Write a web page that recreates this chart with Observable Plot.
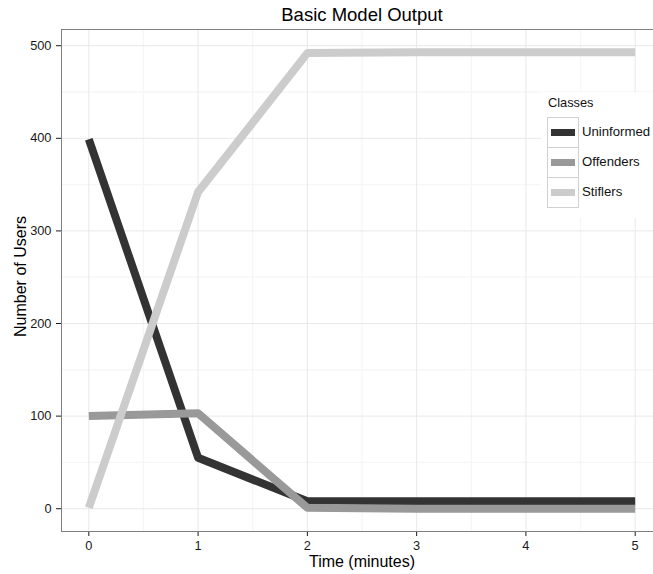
<!DOCTYPE html>
<html>
<head>
<meta charset="utf-8">
<script src="https://cdn.jsdelivr.net/npm/d3@7"></script>
<script src="https://cdn.jsdelivr.net/npm/@observablehq/plot@0.6"></script>
<style>
  html, body { margin: 0; padding: 0; background: #fff; overflow: hidden; }
  #wrap { position: relative; width: 653px; height: 574px; overflow: hidden;
          font-family: "Liberation Sans", Arial, sans-serif; }
  #wrap svg { display: block; max-width: none !important; width: 663px !important; height: 574px !important; }
  #legend { position: absolute; left: 541px; top: 92px; width: 112px; height: 126px; background: #fff;
            font-family: "Liberation Sans", Arial, sans-serif; color: #111; }
  #legend .ttl { position: absolute; left: 7px; top: 3px; font-size: 12.8px; }
  #legend .row { position: absolute; left: 6px; height: 30px; width: 110px; }
  #legend .key { position: absolute; left: 0; top: 0; width: 30px; height: 29px; border: 1px solid #d0d0d0; background: #fff; }
  #legend .sw { position: absolute; left: 3px; top: 11px; width: 24px; height: 7px; }
  #legend .lab { position: absolute; left: 35px; top: 0; line-height: 30px; font-size: 13.2px; }
</style>
</head>
<body>
<div id="wrap"></div>
<script>
// ---- data ----
const times = [0, 1, 2, 3, 4, 5];
const classes = ["Uninformed", "Offenders", "Stiflers"];
const classColors = ["#333333", "#999999", "#cccccc"];
const uninformed = [399, 55, 8, 8, 8, 8];
const offenders = [100, 103, 1, 0, 0, 0];
const stiflers = [1, 342, 492, 493, 493, 493];
const xTicks = [0, 1, 2, 3, 4, 5];
const xMinor = [0.5, 1.5, 2.5, 3.5, 4.5];
const yTicks = [0, 100, 200, 300, 400, 500];
const yMinor = [50, 150, 250, 350, 450];
const titleText = "Basic Model Output";
const xLabel = "Time (minutes)";
const yLabel = "Number of Users";
const legendTitle = "Classes";

const series = [uninformed, offenders, stiflers];
const rows = [];
classes.forEach((c, i) => times.forEach((t, j) => rows.push({time: t, value: series[i][j], cls: c})));

const plot = Plot.plot({
  width: 663,
  height: 574,
  marginLeft: 61,
  marginRight: 1,
  marginTop: 29,
  marginBottom: 43,
  style: {fontFamily: "Liberation Sans, Arial, sans-serif", fontSize: "12.8px", background: "#fff", color: "#1a1a1a"},
  x: {domain: [-0.25, 5.25], ticks: xTicks, tickFormat: d => String(d), tickSize: 5, tickPadding: 4, label: null},
  y: {domain: [-24.6, 517.5], ticks: yTicks, tickFormat: d => String(d), tickSize: 5, tickPadding: 5, label: null},
  color: {domain: classes, range: classColors},
  marks: [
    Plot.ruleX(xMinor, {stroke: "#f6f6f6", strokeWidth: 1.3}),
    Plot.ruleY(yMinor, {stroke: "#f6f6f6", strokeWidth: 1.3}),
    Plot.ruleX(xTicks, {stroke: "#e8e8e8", strokeWidth: 1}),
    Plot.ruleY(yTicks, {stroke: "#e8e8e8", strokeWidth: 1}),
    Plot.line(rows, {x: "time", y: "value", z: "cls", stroke: "cls", strokeWidth: 8,
                     strokeLinejoin: "round", strokeLinecap: "butt"}),
    Plot.frame({stroke: "#7f7f7f", strokeWidth: 1}),
    Plot.text([titleText], {frameAnchor: "top", lineAnchor: "middle", textAnchor: "middle", dy: -14.2, fontSize: 18.5, fill: "#000"}),
    Plot.text([xLabel], {frameAnchor: "bottom", lineAnchor: "middle", textAnchor: "middle", dy: 30.4, fontSize: 16, fill: "#000"}),
    Plot.text([yLabel], {frameAnchor: "left", lineAnchor: "middle", textAnchor: "middle", dx: -41, dy: -4, rotate: -90, fontSize: 16, fill: "#000"})
  ]
});

const wrap = document.getElementById("wrap");
wrap.appendChild(plot);

// legend
const leg = document.createElement("div");
leg.id = "legend";
const lt = document.createElement("div");
lt.className = "ttl";
lt.textContent = legendTitle;
leg.appendChild(lt);
classes.forEach((c, i) => {
  const row = document.createElement("div");
  row.className = "row";
  row.style.top = (25 + i * 30) + "px";
  const key = document.createElement("div");
  key.className = "key";
  const sw = document.createElement("div");
  sw.className = "sw";
  sw.style.background = classColors[i];
  key.appendChild(sw);
  const lab = document.createElement("div");
  lab.className = "lab";
  lab.textContent = c;
  row.appendChild(key);
  row.appendChild(lab);
  leg.appendChild(row);
});
wrap.appendChild(leg);
</script>
</body>
</html>
